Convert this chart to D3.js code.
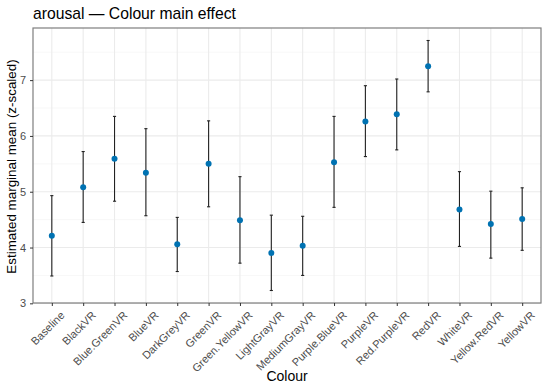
<!DOCTYPE html>
<html>
<head>
<meta charset="utf-8">
<script src="https://cdn.jsdelivr.net/npm/d3@7"></script>
<style>
  body { margin: 0; background: #fff; }
  text { font-family: "Liberation Sans", Arial, sans-serif; }
</style>
</head>
<body>
<svg class="chart" width="550" height="388"></svg>
<script>
// categories and estimates
const colours = ["Baseline", "BlackVR", "Blue.GreenVR", "BlueVR", "DarkGreyVR", "GreenVR",
  "Green.YellowVR", "LightGrayVR", "MediumGrayVR", "Purple.BlueVR", "PurpleVR",
  "Red.PurpleVR", "RedVR", "WhiteVR", "Yellow.RedVR", "YellowVR"];
const emmean = [4.21, 5.08, 5.59, 5.34, 4.06, 5.50, 4.49, 3.90, 4.03, 5.53, 6.26, 6.39, 7.25, 4.68, 4.42, 4.51];
const lowerCL = [3.49, 4.45, 4.83, 4.57, 3.57, 4.73, 3.72, 3.23, 3.50, 4.72, 5.63, 5.75, 6.79, 4.02, 3.81, 3.95];
const upperCL = [4.93, 5.72, 6.35, 6.13, 4.54, 6.27, 5.27, 4.58, 4.56, 6.35, 6.90, 7.02, 7.71, 5.36, 5.01, 5.07];
const yTicks = [3, 4, 5, 6, 7];
const yMinor = [3.5, 4.5, 5.5, 6.5, 7.5];

const data = colours.map((c, i) => ({ colour: c, mean: emmean[i], lo: lowerCL[i], hi: upperCL[i] }));

const svg = d3.select(".chart");
const margin = { top: 28, right: 9, bottom: 85, left: 33 };
const width = 550 - margin.left - margin.right;
const height = 388 - margin.top - margin.bottom;

const g = svg.append("g")
  .attr("transform", "translate(" + margin.left + "," + margin.top + ")");

// discrete x like ggplot: 0.6 unit padding each side
const x = d3.scalePoint()
  .domain(colours)
  .range([0, width])
  .padding(0.6);

// y with 5% expansion around the interval range
const yLo = d3.min(data, d => d.lo);
const yHi = d3.max(data, d => d.hi);
const pad = (yHi - yLo) * 0.05;
const y = d3.scaleLinear()
  .domain([yLo - pad, yHi + pad])
  .range([height, 0]);

// grid
g.selectAll(".minor")
  .data(yMinor)
  .enter().append("line")
  .attr("x1", 0).attr("x2", width)
  .attr("y1", d => y(d)).attr("y2", d => y(d))
  .attr("stroke", "#f2f2f2").attr("stroke-width", 0.6);

g.selectAll(".major")
  .data(yTicks)
  .enter().append("line")
  .attr("x1", 0).attr("x2", width)
  .attr("y1", d => y(d)).attr("y2", d => y(d))
  .attr("stroke", "#ebebeb").attr("stroke-width", 1.1);

g.selectAll(".vgrid")
  .data(colours)
  .enter().append("line")
  .attr("x1", d => x(d)).attr("x2", d => x(d))
  .attr("y1", 0).attr("y2", height)
  .attr("stroke", "#ebebeb").attr("stroke-width", 1.1);

// error bars
const cap = x.step() * 0.05;
const bars = g.selectAll(".err")
  .data(data)
  .enter().append("g")
  .attr("class", "err")
  .attr("stroke", "#222")
  .attr("stroke-width", 1.1);

bars.append("line")
  .attr("x1", d => x(d.colour)).attr("x2", d => x(d.colour))
  .attr("y1", d => y(d.lo)).attr("y2", d => y(d.hi));
bars.append("line")
  .attr("x1", d => x(d.colour) - cap).attr("x2", d => x(d.colour) + cap)
  .attr("y1", d => y(d.lo)).attr("y2", d => y(d.lo));
bars.append("line")
  .attr("x1", d => x(d.colour) - cap).attr("x2", d => x(d.colour) + cap)
  .attr("y1", d => y(d.hi)).attr("y2", d => y(d.hi));

// points
g.selectAll(".pt")
  .data(data)
  .enter().append("circle")
  .attr("cx", d => x(d.colour))
  .attr("cy", d => y(d.mean))
  .attr("r", 3)
  .attr("fill", "#0072B2");

// panel border
g.append("rect")
  .attr("width", width).attr("height", height)
  .attr("fill", "none")
  .attr("stroke", "#7f7f7f")
  .attr("stroke-width", 1.2);

// axes
const yAxis = g.append("g")
  .call(d3.axisLeft(y).tickValues(yTicks).tickSize(3).tickPadding(4).tickFormat(d3.format("d")));
yAxis.select(".domain").remove();
yAxis.selectAll(".tick line").attr("stroke", "#333");
yAxis.selectAll(".tick text").attr("fill", "#4d4d4d").style("font-size", "11px");

const xAxis = g.append("g")
  .attr("transform", "translate(0," + height + ")")
  .call(d3.axisBottom(x).tickSize(3).tickPadding(2));
xAxis.select(".domain").remove();
xAxis.selectAll(".tick line").attr("stroke", "#333");
xAxis.selectAll(".tick text")
  .attr("fill", "#4d4d4d")
  .style("font-size", "11px")
  .attr("text-anchor", "end")
  .attr("dy", "0.7em")
  .attr("transform", "translate(4,4) rotate(-45)");

// titles
svg.append("text")
  .attr("x", margin.left)
  .attr("y", 19)
  .style("font-size", "15.7px")
  .attr("fill", "#000")
  .text("arousal \u2014 Colour main effect");

svg.append("text")
  .attr("x", margin.left + width / 2)
  .attr("y", 381)
  .attr("text-anchor", "middle")
  .style("font-size", "14px")
  .text("Colour");

svg.append("text")
  .attr("transform", "translate(16," + (margin.top + height / 2 + 1) + ") rotate(-90)")
  .attr("text-anchor", "middle")
  .style("font-size", "13.4px")
  .text("Estimated marginal mean (z-scaled)");
</script>
</body>
</html>
